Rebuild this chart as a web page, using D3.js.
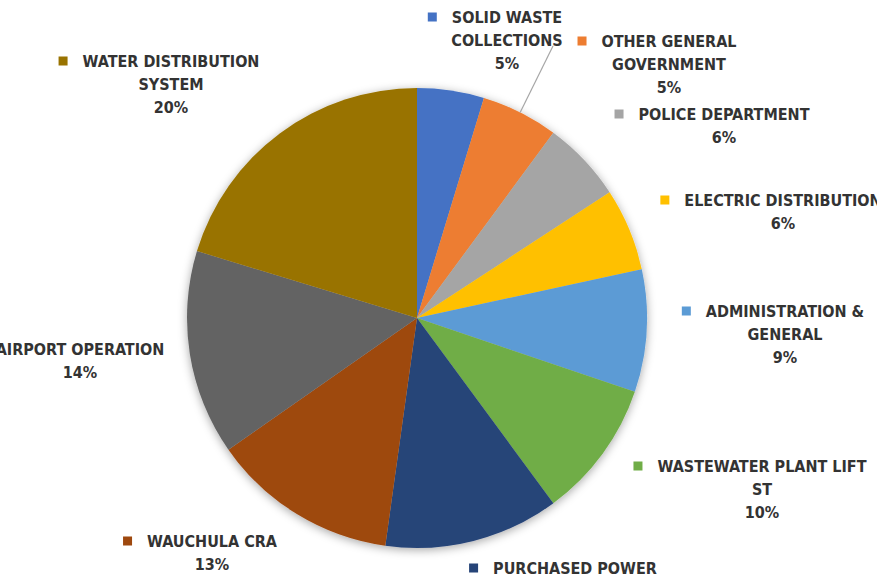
<!DOCTYPE html>
<html>
<head>
<meta charset="utf-8">
<script src="https://cdn.jsdelivr.net/npm/d3@7"></script>
<style>
  body { margin: 0; background: #fff; }
  svg { display: block; }
  .lbl { font-family: "Liberation Sans Narrow", "DejaVu Sans Condensed", "Roboto Condensed", Roboto, sans-serif; font-weight: bold; font-size: 16px; fill: #333; }
</style>
</head>
<body>
<div id="chart"></div>
<script>
const width = 877;
const height = 575;

// chart data, clockwise from 12 o'clock
const categories = [
    "SOLID WASTE|COLLECTIONS",
    "OTHER GENERAL|GOVERNMENT",
    "POLICE DEPARTMENT",
    "ELECTRIC DISTRIBUTION",
    "ADMINISTRATION &|GENERAL",
    "WASTEWATER PLANT LIFT|ST",
    "PURCHASED POWER",
    "WAUCHULA CRA",
    "AIRPORT OPERATION",
    "WATER DISTRIBUTION|SYSTEM"
];
const shares = [4.7, 5.4, 5.7, 5.8, 8.6, 9.7, 12.3, 13.1, 14.4, 20.3];
const colors = ["#4472C4", "#ED7D31", "#A5A5A5", "#FFC000", "#5B9BD5",
                "#70AD47", "#264478", "#9E480E", "#636363", "#997300"];

// label placement (center x, first line y)
const labelPos = [
    [507, 17], [669, 41], [724, 114], [783, 200], [785, 311],
    [762, 466], [575, 568], [212, 541], [80, 349], [171, 61]
];

const cx = 417, cy = 318, radius = 230;
const lineH = 23;

const svg = d3.select("#chart")
    .append("svg")
    .attr("width", width)
    .attr("height", height);

const defs = svg.append("defs");
const shadow = defs.append("filter")
    .attr("id", "shadow")
    .attr("x", "-20%").attr("y", "-20%")
    .attr("width", "140%").attr("height", "140%");
shadow.append("feDropShadow")
    .attr("dx", 0).attr("dy", 2)
    .attr("stdDeviation", 5)
    .attr("flood-color", "#000")
    .attr("flood-opacity", 0.35);

const total = d3.sum(shares);
const pie = d3.pie().sort(null).value(d => d)(shares);
const arc = d3.arc().innerRadius(0).outerRadius(radius);

const g = svg.append("g")
    .attr("transform", `translate(${cx},${cy})`);

g.append("g")
    .attr("filter", "url(#shadow)")
    .selectAll("path")
    .data(pie)
    .enter()
    .append("path")
    .attr("d", arc)
    .attr("fill", (d, i) => colors[i]);

// leader line for the orange slice
const outer = d3.arc().innerRadius(radius).outerRadius(radius);
const p = outer.centroid(pie[1]);
svg.append("line")
    .attr("x1", 553).attr("y1", 46)
    .attr("x2", cx + p[0]).attr("y2", cy + p[1])
    .attr("stroke", "#a6a6a6")
    .attr("stroke-width", 1.2);

// data labels
const labels = svg.append("g");
categories.forEach((name, i) => {
    const [lx, ly] = labelPos[i];
    const lines = name.split("|");
    lines.push(Math.round(shares[i] / total * 100) + "%");
    const lg = labels.append("g");
    const texts = lg.selectAll("text")
        .data(lines)
        .enter()
        .append("text")
        .attr("class", "lbl")
        .attr("x", lx)
        .attr("y", (d, j) => ly + j * lineH)
        .attr("dy", "0.36em")
        .attr("text-anchor", "middle")
        .text(d => d);
    const w = texts.node().getComputedTextLength();
    lg.append("rect")
        .attr("x", lx - w / 2 - 24)
        .attr("y", ly - 4.5)
        .attr("width", 9)
        .attr("height", 9)
        .attr("fill", colors[i]);
});
</script>
</body>
</html>
